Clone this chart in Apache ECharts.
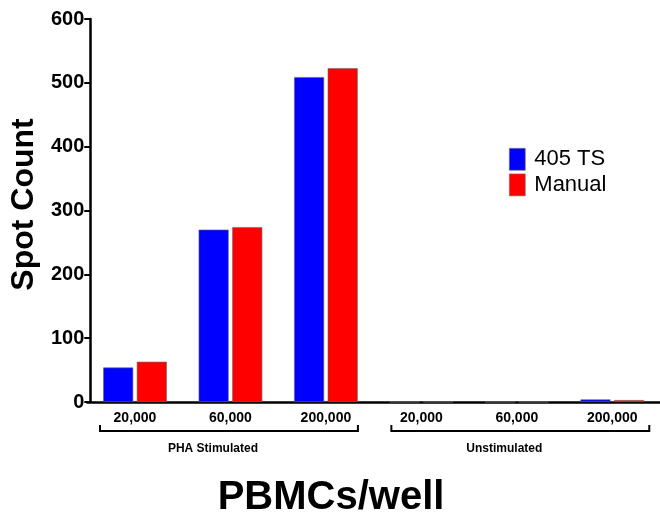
<!DOCTYPE html>
<html>
<head>
<meta charset="utf-8">
<script src="https://cdn.jsdelivr.net/npm/echarts@6/dist/echarts.min.js"></script>
<style>
  html, body { margin: 0; padding: 0; background: #fff; }
  #chart { width: 660px; height: 516px; }
</style>
</head>
<body>
<div id="chart"></div>
<script>
const categories = ['20,000', '60,000', '200,000', '20,000 ', '60,000 ', '200,000 '];
const groups = ['PHA Stimulated', 'Unstimulated'];
const ts405 = [54, 270, 509, 0, 0, 4];
const manual = [63, 274, 523, 0, 0, 3];
const yTicks = [0, 100, 200, 300, 400, 500, 600];

const font = '"Liberation Sans", Arial, sans-serif';
const chart = echarts.init(document.getElementById('chart'));

const option = {
  animation: false,
  textStyle: { fontFamily: font },
  grid: { left: 85, top: 19, width: 580, bottom: 114, containLabel: false },
  legend: {
    orient: 'vertical',
    left: 509,
    top: 148,
    padding: 0,
    itemWidth: 16,
    itemHeight: 22,
    itemGap: 3,
    icon: 'rect',
    itemStyle: { borderColor: '#777', borderWidth: 0.6 },
    textStyle: { fontSize: 22, color: '#000', fontFamily: font, padding: [0, 0, 0, 4] },
    data: ['405 TS', 'Manual']
  },
  xAxis: {
    type: 'category',
    data: categories,
    axisLine: { lineStyle: { color: '#000', width: 2.5 } },
    axisTick: { alignWithLabel: true, length: 4, lineStyle: { color: '#000', width: 2 } },
    axisLabel: { color: '#000', fontWeight: 'bold', fontSize: 14, margin: 9, fontFamily: font,
      formatter: v => v.trim() }
  },
  yAxis: {
    type: 'value',
    min: yTicks[0],
    max: yTicks[yTicks.length - 1],
    interval: 100,
    offset: -3,
    name: 'Spot Count',
    nameLocation: 'middle',
    nameGap: 50,
    nameTextStyle: { fontSize: 32, fontWeight: 'bold', color: '#000', fontFamily: font, padding: [0, 0, 0, 12] },
    axisLine: { show: true, lineStyle: { color: '#000', width: 2.5 } },
    axisTick: { show: true, length: 6, lineStyle: { color: '#000', width: 2 } },
    axisLabel: { color: '#000', fontWeight: 'bold', fontSize: 20, margin: 6, fontFamily: font },
    splitLine: { show: false }
  },
  series: [
    {
      name: '405 TS',
      type: 'bar',
      data: ts405,
      barWidth: 30,
      barGap: '12%',
      itemStyle: { color: '#0000FF', borderColor: '#666', borderWidth: 0.6 }
    },
    {
      name: 'Manual',
      type: 'bar',
      data: manual,
      barWidth: 30,
      itemStyle: { color: '#FF0000', borderColor: '#666', borderWidth: 0.6 }
    }
  ]
};
chart.setOption(option);

// group brackets under the category labels
const px = i => chart.convertToPixel({ xAxisIndex: 0 }, categories[i]);
const bracketTop = 425, bracketBottom = 431;
const graphics = [];
[[0, 2, 35, 32], [3, 5, 30, 37]].forEach(([a, b, padL, padR], gi) => {
  const x1 = px(a) - padL, x2 = px(b) + padR;
  graphics.push({
    type: 'polyline',
    shape: { points: [[x1, bracketTop], [x1, bracketBottom], [x2, bracketBottom], [x2, bracketTop]] },
    style: { stroke: '#000', lineWidth: 2, fill: null }
  });
  graphics.push({
    type: 'text',
    x: (x1 + x2) / 2 - 16,
    y: 449,
    style: { text: groups[gi], font: 'bold 12px ' + font, fill: '#000', align: 'center', verticalAlign: 'middle' }
  });
});
graphics.push({
  type: 'text',
  x: 331,
  y: 498,
  style: { text: 'PBMCs/well', font: 'bold 40px ' + font, fill: '#000', align: 'center', verticalAlign: 'middle' }
});
chart.setOption({ graphic: graphics });
</script>
</body>
</html>
